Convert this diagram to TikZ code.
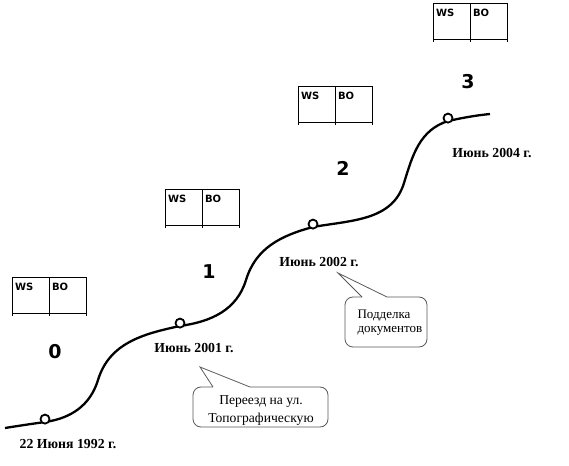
\documentclass[tikz,border=0pt]{standalone}
\usepackage{fontspec}
\setmainfont{Liberation Serif}
\newfontfamily\tabfont{DejaVu Sans}
\usetikzlibrary{positioning}

\begin{document}
\begin{tikzpicture}[x=1pt, y=1pt,
  every node/.style={font=\fontsize{13.6}{16}\selectfont},
  cell/.style={draw, line width=0.8pt, outer sep=0pt, inner xsep=3pt,
    inner ysep=0pt, text width=31pt, align=left, text height=14pt,
    text depth=22pt, font=\tabfont\bfseries\fontsize{10}{12}\selectfont},
  phase/.style={font=\tabfont\bfseries\fontsize{19}{22}\selectfont},
  date/.style={font=\bfseries\fontsize{13.8}{16}\selectfont},
  dot/.style={circle, draw, line width=1.8pt, fill=white, inner sep=0pt,
    minimum size=9pt},
  callout/.style={draw=black!65, line width=0.8pt}]
  \useasboundingbox (0,0) rectangle (569,465);

  % tables WS / BO
  \foreach \i/\x/\y in {0/12/152, 1/165/240, 2/298/343, 3/433/426} {
    \node[cell, anchor=south west] (ws\i) at (\x,\y) {WS};
    \node[cell, anchor=south west] (bo\i) at (ws\i.south east) {BO};
    \draw[line width=0.8pt] (ws\i.south west) -- ++(0,-3);
    \draw[line width=0.8pt] (ws\i.south east) -- ++(0,-3);
    \draw[line width=0.8pt] (bo\i.south east) -- ++(0,-3);
  }

  % stage numbers
  \node[phase] (p0) at (55,113) {0};
  \node[phase] (p1) at (209,193) {1};
  \node[phase] (p2) at (343,297) {2};
  \node[phase] (p3) at (468,383) {3};

  % growth curve
  \coordinate (s) at (5,37);
  \coordinate (k0) at (45,43);
  \coordinate (m1) at (98,85);
  \coordinate (k1) at (180,139);
  \coordinate (m2) at (246,185);
  \coordinate (k2) at (313,238);
  \coordinate (m3) at (404,282);
  \coordinate (k3) at (448,344);
  \coordinate (e) at (490,351);
  \draw[line width=2.3pt] (s) to[out=9, in=188] (k0)
    to[out=8, in=253] (m1) to[out=73, in=192] (k1)
    to[out=8, in=253] (m2) to[out=73, in=195] (k2)
    to[out=10, in=253] (m3) to[out=73, in=198] (k3)
    to[out=12, in=186] (e);
  \node[dot, above=-2.5pt of k0] (c0) {};
  \node[dot, above=-2.5pt of k1] (c1) {};
  \node[dot, above=-2.5pt of k2] (c2) {};
  \node[dot, above=-2.5pt of k3] (c3) {};

  % dates
  \node[date] (d0) at (68,21) {22 Июня 1992 г.};
  \node[date] (d1) at (194,117) {Июнь 2001 г.};
  \node[date] (d2) at (319,203) {Июнь 2002 г.};
  \node[date] (d3) at (492,312) {Июнь 2004 г.};

  % callouts
  \node[align=center, font=\fontsize{13.6}{18}\selectfont] (n1) at (261,54)
    {Переезд на ул.\\Топографическую};
  \coordinate (t1) at (200,98);
  \draw[callout, rounded corners=8pt] (213,78) -- (193,78) -- (193,38)
    -- (328,38) -- (328,78) -- (250,78);
  \draw[callout] (213,78) -- (t1) -- (250,78);

  \node[anchor=west, align=left, font=\fontsize{13}{14}\selectfont] (n2)
    at (354,142) {Подделка\\документов};
  \coordinate (t2) at (338,192);
  \draw[callout, rounded corners=8pt] (362,168) -- (345,168) -- (345,118)
    -- (427,118) -- (427,168) -- (387,168);
  \draw[callout] (362,168) -- (t2) -- (387,168);
\end{tikzpicture}
\end{document}
